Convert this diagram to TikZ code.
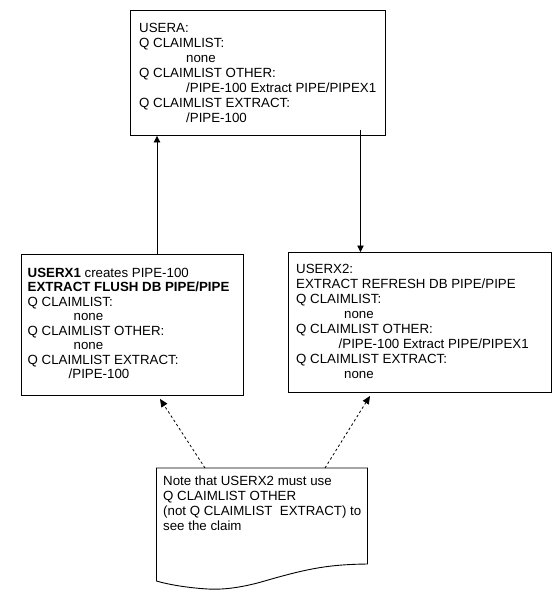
\documentclass[tikz,border=0pt]{standalone}
\usepackage{fontspec}
\setmainfont{Liberation Sans}
\usetikzlibrary{arrows.meta,calc}
\tikzset{
  box/.style={draw=black, line width=0.9pt, inner sep=0pt},
  txt/.style={anchor=base west, inner sep=0pt, font=\fontsize{13.3}{15}\selectfont},
  arr/.style={draw=black, line width=0.8pt, -{Triangle[length=6.5pt,width=6.5pt]}},
  darr/.style={draw=black, line width=0.8pt, dash pattern=on 2.5pt off 2.5pt, -{Triangle[length=8pt,width=7pt]}},
}
\begin{document}
\begin{tikzpicture}[x=1pt,y=-1pt]
\useasboundingbox (0,0) rectangle (559,603);
\fill[white] (0,0) rectangle (559,603);
% boxes
\node[box, minimum width=255pt, minimum height=125pt, anchor=north west] (tbox) at (130,10) {};
\node[box, minimum width=222pt, minimum height=141pt, anchor=north west] (lbox) at (21,254) {};
\node[box, minimum width=263pt, minimum height=140pt, anchor=north west] (rbox) at (288,252) {};
% texts
\node[txt] (ttxt) at (139,32) {\vtop{\baselineskip=15pt
  \hbox{USERA:}
  \hbox{Q CLAIMLIST:}
  \hbox{\hskip47pt none}
  \hbox{Q CLAIMLIST OTHER:}
  \hbox{\hskip47pt /PIPE-100 Extract PIPE/PIPEX1}
  \hbox{Q CLAIMLIST EXTRACT:}
  \hbox{\hskip47pt /PIPE-100}}};
\node[txt] (ltxt) at (27.5,277) {\vtop{\baselineskip=14.5pt
  \hbox{\textbf{USERX1} creates PIPE-100}
  \hbox{\textbf{EXTRACT FLUSH DB PIPE/PIPE}}
  \hbox{Q CLAIMLIST:}
  \hbox{\hskip46pt none}
  \hbox{Q CLAIMLIST OTHER:}
  \hbox{\hskip46pt none}
  \hbox{Q CLAIMLIST EXTRACT:}
  \hbox{\hskip41pt /PIPE-100}}};
\node[txt] (rtxt) at (296,273) {\vtop{\baselineskip=15pt
  \hbox{USERX2:}
  \hbox{EXTRACT REFRESH DB PIPE/PIPE}
  \hbox{Q CLAIMLIST:}
  \hbox{\hskip48pt none}
  \hbox{Q CLAIMLIST OTHER:}
  \hbox{\hskip42.5pt /PIPE-100 Extract PIPE/PIPEX1}
  \hbox{Q CLAIMLIST EXTRACT:}
  \hbox{\hskip48pt none}}};
% note shape
\coordinate (n1) at (156.5,468);
\coordinate (n2) at (367.5,468);
\coordinate (n3) at (367.5,564);
\coordinate (n4) at (156.5,581);
\draw[line width=0.9pt, fill=white] (n1) -- (n2) -- (n3)
  .. controls (330,564.5) and (310,568) .. (268,580)
  .. controls (245,587) and (225,590) .. (208,589)
  .. controls (190,588) and (170,585) .. (n4) -- cycle;
\node[txt] (ntxt) at (163,485) {\vtop{\baselineskip=15pt
  \hbox{Note that USERX2 must use}
  \hbox{Q CLAIMLIST OTHER}
  \hbox{(not Q CLAIMLIST~ EXTRACT) to}
  \hbox{see the claim}}};
% connectors
\coordinate (x1) at (157,0);
\coordinate (x2) at (360.5,0);
\draw[arr] (x1 |- lbox.north) -- (x1 |- tbox.south);
\draw[arr] ($(x2 |- tbox.south)+(0,-6)$) -- (x2 |- rbox.north);
\coordinate (d1) at (205,468);
\coordinate (d2) at (325,468);
\draw[darr] (d1) -- ($(lbox.south west)+(139,3)$);
\draw[darr] (d2) -- ($(rbox.south west)+(82,3)$);
\end{tikzpicture}
\end{document}
